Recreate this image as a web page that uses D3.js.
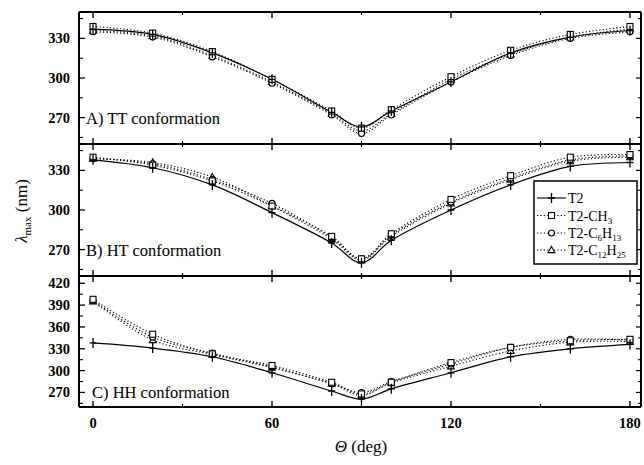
<!DOCTYPE html>
<html>
<head>
<meta charset="utf-8">
<script src="https://cdn.jsdelivr.net/npm/d3@7"></script>
<style>
  body { margin: 0; background: #fff; }
  svg { display: block; font-family: "Liberation Serif", "DejaVu Serif", serif; }
</style>
</head>
<body>
<svg width="644" height="465"></svg>
<script>
// Torsion angle values (deg)
var theta = [0, 20, 40, 60, 80, 90, 100, 120, 140, 160, 180];

// A) TT conformation
var ttT2 = [337, 333, 319, 299, 274, 263, 275, 297, 319, 331, 336];
var ttCH3 = [339, 334, 320, 299, 275, 262, 276, 301, 321, 333, 339];
var ttC6 = [335, 331, 316, 296, 272, 258, 272, 297, 317, 330, 335];
var ttC12 = [336, 332, 317, 297, 273, 260, 273, 299, 318, 331, 337];

// B) HT conformation
var htT2 = [338, 332, 319, 298, 275, 260, 277, 300, 319, 333, 336];
var htCH3 = [340, 334, 322, 303, 280, 263, 282, 308, 326, 340, 342];
var htC6 = [339, 335, 323, 305, 279, 263, 281, 306, 324, 338, 341];
var htC12 = [339, 336, 325, 303, 278, 262, 280, 305, 323, 337, 340];

// C) HH conformation
var hhT2 = [338, 331, 319, 297, 272, 261, 275, 297, 319, 330, 336];
var hhCH3 = [398, 350, 323, 307, 284, 268, 284, 311, 332, 341, 343];
var hhC6 = [396, 346, 324, 305, 282, 270, 285, 309, 332, 343, 342];
var hhC12 = [395, 342, 322, 304, 282, 266, 283, 306, 327, 339, 340];

var seriesNames = ["T2", "T2-CH3", "T2-C6H13", "T2-C12H25"];
var markerTypes = ["plus", "square", "circle", "triangle"];
var xTicks = [0, 60, 120, 180];
var xMinorTicks = [30, 90, 150];

var panels = [
  { label: "A) TT conformation", domain: [250, 350], ticks: [270, 300, 330], minor: [255, 285, 315, 345],
    data: [ttT2, ttCH3, ttC6, ttC12] },
  { label: "B) HT conformation", domain: [250, 350], ticks: [270, 300, 330], minor: [255, 285, 315, 345],
    data: [htT2, htCH3, htC6, htC12] },
  { label: "C) HH conformation", domain: [250, 430], ticks: [270, 300, 330, 360, 390, 420], minor: [255, 285, 315, 345, 375, 405],
    data: [hhT2, hhCH3, hhC6, hhC12] },
];

var svg = d3.select("svg");

//Plot area bounds
var left = 79, right = 641;
var panelTops = [12, 144, 276];
var panelBottoms = [144, 276, 407];

var xScale = d3.scaleLinear().domain([-4.7, 183.7]).range([left, right]);

//Draw a marker of a given type at a point
function drawMarker(g, type, x, y) {
  if (type === "plus") {
    g.append("path")
      .attr("d", `M${x - 3.5},${y}H${x + 3.5}M${x},${y - 5}V${y + 5}`)
      .attr("stroke", "#000").attr("stroke-width", 1.3);
  } else if (type === "square") {
    g.append("rect")
      .attr("x", x - 3).attr("y", y - 3).attr("width", 6).attr("height", 6)
      .attr("fill", "#fff").attr("stroke", "#000").attr("stroke-width", 1.1);
  } else if (type === "circle") {
    g.append("circle")
      .attr("cx", x).attr("cy", y).attr("r", 3)
      .attr("fill", "#fff").attr("stroke", "#000").attr("stroke-width", 1.1);
  } else {
    g.append("path")
      .attr("d", `M${x},${y - 3.6}L${x + 3.4},${y + 2.6}L${x - 3.4},${y + 2.6}Z`)
      .attr("fill", "#fff").attr("stroke", "#000").attr("stroke-width", 1.1);
  }
}

panels.forEach(function (p, i) {
  var top = panelTops[i], bottom = panelBottoms[i];
  var yScale = d3.scaleLinear().domain(p.domain).range([bottom, top]);
  var g = svg.append("g").attr("class", "panel-" + i);

  //Lines: dotted for the alkyl derivatives, solid for T2
  var line = d3.line()
    .x(function (d, k) { return xScale(theta[k]); })
    .y(function (d) { return yScale(d); })
    .curve(d3.curveCatmullRom.alpha(0.5));

  // draw dotted series first so the solid T2 line sits on top
  [3, 2, 1, 0].forEach(function (s) {
    g.append("path")
      .datum(p.data[s])
      .attr("d", line)
      .attr("fill", "none")
      .attr("stroke", "#000")
      .attr("stroke-width", s === 0 ? 1.2 : 1.1)
      .attr("stroke-dasharray", s === 0 ? null : "1.2,2.2");
  });

  [3, 2, 1, 0].forEach(function (s) {
    p.data[s].forEach(function (v, k) {
      drawMarker(g, markerTypes[s], xScale(theta[k]), yScale(v));
    });
  });

  //Left axis ticks (inward) and labels
  p.ticks.forEach(function (t) {
    g.append("line")
      .attr("x1", left).attr("x2", left + 6)
      .attr("y1", yScale(t)).attr("y2", yScale(t))
      .attr("stroke", "#000").attr("stroke-width", 1.3);
    g.append("line")
      .attr("x1", right - 5).attr("x2", right)
      .attr("y1", yScale(t)).attr("y2", yScale(t))
      .attr("stroke", "#000").attr("stroke-width", 1.2);
    g.append("text")
      .attr("x", 70).attr("y", yScale(t) + 5)
      .attr("text-anchor", "end")
      .attr("font-size", 14.5).attr("font-weight", "bold")
      .text(t);
  });
  p.minor.forEach(function (t) {
    g.append("line")
      .attr("x1", left).attr("x2", left + 4)
      .attr("y1", yScale(t)).attr("y2", yScale(t))
      .attr("stroke", "#000").attr("stroke-width", 1.1);
    g.append("line")
      .attr("x1", right - 3).attr("x2", right)
      .attr("y1", yScale(t)).attr("y2", yScale(t))
      .attr("stroke", "#000").attr("stroke-width", 1.1);
  });

  //Panel label
  g.append("text")
    .attr("x", i === 2 ? 92 : 86).attr("y", yScale(270) + 6)
    .attr("font-size", 16.5)
    .text(p.label);
});

//Horizontal frame lines (top, separators, bottom) with x ticks
var hLines = [12, 144, 276, 407];
hLines.forEach(function (y, i) {
  svg.append("line")
    .attr("x1", left).attr("x2", right)
    .attr("y1", y).attr("y2", y)
    .attr("stroke", "#000").attr("stroke-width", 2);
  xTicks.forEach(function (t) {
    svg.append("line")
      .attr("x1", xScale(t)).attr("x2", xScale(t))
      .attr("y1", i === 0 ? y : y - 6).attr("y2", i === 3 ? y : y + 6)
      .attr("stroke", "#000").attr("stroke-width", 1.4);
  });
  xMinorTicks.forEach(function (t) {
    svg.append("line")
      .attr("x1", xScale(t)).attr("x2", xScale(t))
      .attr("y1", i === 0 ? y : y - 3).attr("y2", i === 3 ? y : y + 3)
      .attr("stroke", "#000").attr("stroke-width", 1.2);
  });
});

//Vertical frame lines
svg.append("line")
  .attr("x1", left).attr("x2", left).attr("y1", 12).attr("y2", 407)
  .attr("stroke", "#000").attr("stroke-width", 2);
svg.append("line")
  .attr("x1", right).attr("x2", right).attr("y1", 12).attr("y2", 407)
  .attr("stroke", "#000").attr("stroke-width", 2);

//X tick labels
xTicks.forEach(function (t) {
  svg.append("text")
    .attr("x", xScale(t)).attr("y", 428)
    .attr("text-anchor", "middle")
    .attr("font-size", 14.5).attr("font-weight", "bold")
    .text(t);
});

//Axis titles
var xLabel = svg.append("text")
  .attr("x", 361).attr("y", 452)
  .attr("text-anchor", "middle")
  .attr("font-size", 17);
xLabel.append("tspan").attr("font-style", "italic").text("Θ");
xLabel.append("tspan").text(" (deg)");

var yLabel = svg.append("text")
  .attr("transform", "translate(27,211) rotate(-90)")
  .attr("text-anchor", "middle")
  .attr("font-size", 17);
yLabel.append("tspan").attr("font-style", "italic").text("λ");
yLabel.append("tspan").attr("font-size", 11).attr("dy", 4).text("max");
yLabel.append("tspan").attr("dy", -4).text(" (nm)");

//Legend
var legend = svg.append("g").attr("class", "legend");
legend.append("rect")
  .attr("x", 534).attr("y", 181).attr("width", 103).attr("height", 83)
  .attr("fill", "#fff").attr("stroke", "#000").attr("stroke-width", 1.5);

var legendY = [198, 215.5, 233, 250];
var legendLabels = [
  [["T2", 0]],
  [["T2-CH", 0], ["3", 1]],
  [["T2-C", 0], ["6", 1], ["H", 0], ["13", 1]],
  [["T2-C", 0], ["12", 1], ["H", 0], ["25", 1]],
];
seriesNames.forEach(function (name, s) {
  var y = legendY[s];
  legend.append("line")
    .attr("x1", 537).attr("x2", 566).attr("y1", y).attr("y2", y)
    .attr("stroke", "#000").attr("stroke-width", 1.1)
    .attr("stroke-dasharray", s === 0 ? null : "1.2,2.2");
  drawMarker(legend, markerTypes[s], 551.5, y);
  var txt = legend.append("text")
    .attr("x", 568).attr("y", y + 5)
    .attr("font-size", 14);
  var sub = false;
  legendLabels[s].forEach(function (part) {
    var ts = txt.append("tspan").text(part[0]);
    if (part[1] && !sub) { ts.attr("dy", 3).attr("font-size", 9); sub = true; }
    else if (part[1]) { ts.attr("font-size", 9); }
    else if (sub) { ts.attr("dy", -3); sub = false; }
  });
});
</script>
</body>
</html>
